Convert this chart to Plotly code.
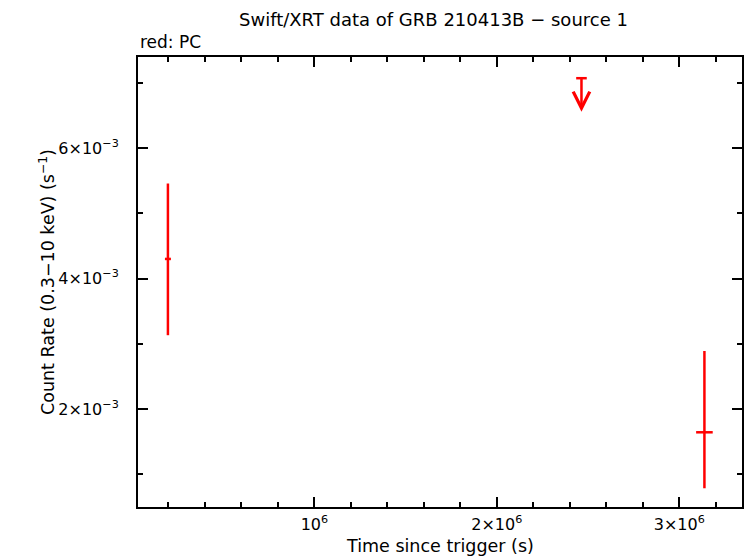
import plotly.graph_objects as go

# Detections (PC mode)
t = [1.97e5, 3.138e6]
t_err = [1.64e4, 4.55e4]
rate = [4.30e-3, 1.643e-3]
rate_err_plus = [1.156e-3, 1.246e-3]
rate_err_minus = [1.169e-3, 0.858e-3]

# Upper limit (PC mode)
ul_t = [2.464e6]
ul_t_err = [2.9e4]
ul_rate = [7.07e-3]

x_tickvals = [1e6, 2e6, 3e6]
x_ticktext = ["10<sup>6</sup>", "2×10<sup>6</sup>", "3×10<sup>6</sup>"]
y_tickvals = [2e-3, 4e-3, 6e-3]
y_ticktext = ["2×10<sup>−3</sup>", "4×10<sup>−3</sup>", "6×10<sup>−3</sup>"]

RED = "#ff0000"
FONT = "DejaVu Sans, Liberation Sans, Arial, sans-serif"

fig = go.Figure()

fig.add_trace(go.Scatter(
    x=t, y=rate, mode="markers",
    marker=dict(size=1, color=RED),
    error_x=dict(type="data", array=t_err, color=RED, thickness=2.5, width=0),
    error_y=dict(type="data", symmetric=False, array=rate_err_plus,
                 arrayminus=rate_err_minus, color=RED, thickness=2.5, width=0),
    showlegend=False, hoverinfo="x+y",
))

fig.add_trace(go.Scatter(
    x=ul_t, y=ul_rate, mode="markers",
    marker=dict(size=1, color=RED),
    error_x=dict(type="data", array=ul_t_err, color=RED, thickness=2.5, width=0),
    showlegend=False, hoverinfo="x+y",
))

for xv, yv in zip(ul_t, ul_rate):
    fig.add_annotation(
        x=xv, y=yv, xref="x", yref="y", text="", showarrow=True,
        ax=0, ay=35, arrowside="start", startarrowhead=5, startarrowsize=1.3,
        arrowwidth=2.5, arrowcolor=RED,
    )

axis_common = dict(
    showline=True, linecolor="black", linewidth=2, mirror="allticks",
    ticks="inside", ticklen=10, tickwidth=2, tickcolor="black",
    showgrid=False, zeroline=False,
    tickfont=dict(family=FONT, size=16, color="black"),
)

fig.update_xaxes(
    range=[3.3e4, 3.344e6], tickmode="array",
    tickvals=x_tickvals, ticktext=x_ticktext,
    minor=dict(tick0=0, dtick=2e5, ticks="inside", ticklen=5, tickwidth=2,
               tickcolor="black"),
    ticklabelstandoff=2,
    **axis_common,
)
fig.update_yaxes(
    range=[0.498e-3, 7.395e-3], tickmode="array",
    tickvals=y_tickvals, ticktext=y_ticktext,
    minor=dict(tick0=0, dtick=1e-3, ticks="inside", ticklen=5, tickwidth=2,
               tickcolor="black"),
    ticklabelstandoff=14,
    **axis_common,
)

fig.add_annotation(text="Swift/XRT data of GRB 210413B − source 1",
                   xref="paper", yref="paper", x=0.489, y=1.0, yshift=38,
                   xanchor="center", yanchor="middle", showarrow=False,
                   font=dict(family=FONT, size=18, color="black"))
fig.add_annotation(text="red: PC", xref="paper", yref="paper", x=0, y=1.0,
                   yshift=15, xanchor="left", yanchor="middle", showarrow=False,
                   font=dict(family=FONT, size=17, color="black"))
fig.add_annotation(text="Time since trigger (s)", xref="paper", yref="paper",
                   x=0.5, y=0, yshift=-39, xanchor="center", yanchor="middle",
                   showarrow=False, font=dict(family=FONT, size=17.5, color="black"))
fig.add_annotation(text="Count Rate (0.3−10 keV) (s<sup>−1</sup>)",
                   xref="paper", yref="paper", x=0, xshift=-91, y=0.5,
                   xanchor="center", yanchor="middle", textangle=-90,
                   showarrow=False, font=dict(family=FONT, size=17.5, color="black"))

fig.update_layout(
    width=746, height=558,
    margin=dict(l=138, r=2, t=57, b=51),
    plot_bgcolor="white", paper_bgcolor="white",
)

fig.write_html("out.html", config={"displayModeBar": False},
               post_script="document.body.style.margin='0';document.body.style.overflow='hidden';")
